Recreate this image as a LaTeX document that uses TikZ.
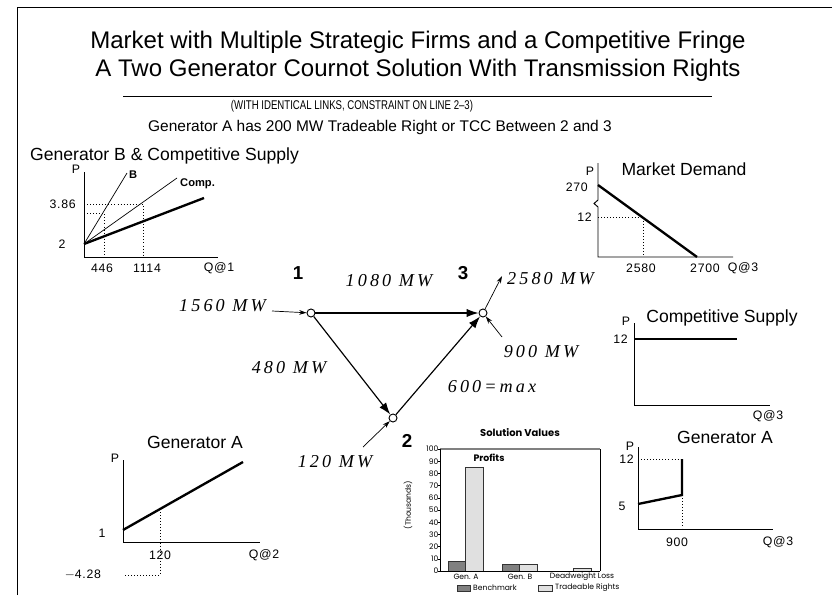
\documentclass[tikz,border=0pt]{standalone}
\usepackage{fontspec}
\setmainfont{Liberation Sans}
\newfontfamily\cadfont{Liberation Sans}[LetterSpace=6]
\newfontfamily\flowfont{Liberation Serif}[LetterSpace=17]
\newfontfamily\chartfont{Poppins}
\usetikzlibrary{positioning,arrows.meta}

\begin{document}
\begin{tikzpicture}[x=0.3mm,y=-0.3mm,
  every node/.style={inner sep=0pt},
  axis/.style={line width=0.8pt},
  supply/.style={line width=2pt},
  guide/.style={dotted,line width=0.6pt},
  ptitle/.style={font=\fontsize{15}{18}\selectfont},
  tick/.style={font=\cadfont\fontsize{10.5}{12}\selectfont},
  flow/.style={font=\flowfont\itshape\fontsize{15.5}{18}\selectfont},
  bus/.style={circle,draw,line width=0.8pt,minimum size=2.4mm,fill=white},
  busno/.style={font=\bfseries\fontsize{16}{18}\selectfont},
  link/.style={line width=1pt,-{Latex[length=3.6mm,width=2.5mm]}},
  inj/.style={line width=0.6pt,-{Stealth[length=2.2mm,width=1.4mm]}},
  bar/.style={draw=black!80,line width=0.7pt},
  bench/.style={bar,fill=black!50},
  trade/.style={bar,fill=black!12},
  small/.style={font=\chartfont\fontsize{6.5}{7}\selectfont},
]
\useasboundingbox (0,0) rectangle (832,595);
\draw[line width=0.8pt] (17,595) -- (17,7) -- (832,7);

\node[font=\fontsize{20.5}{24}\selectfont,align=center] (title) at (418,56)
  {Market with Multiple Strategic Firms and a Competitive Fringe\\
   A Two Generator Cournot Solution With Transmission Rights};
\draw[line width=0.8pt] (123,96) -- (712,96);
\node[font=\fontsize{10.8}{11}\selectfont,xscale=0.76,transform shape] (cond) at (352,106)
  {(WITH IDENTICAL LINKS, CONSTRAINT ON LINE 2–3)};
\node[font=\fontsize{13.2}{14}\selectfont] (tcc) at (380,128)
  {Generator A has 200 MW Tradeable Right or TCC Between 2 and 3};

% generator B and competitive supply at 1
\node[ptitle,anchor=west] (gbtitle) at (30,156) {Generator B \& Competitive Supply};
\draw[axis] (84,172) -- (84,257) -- (218,257);
\coordinate (gb0) at (84,244);
\coordinate (gbB) at (127,173);
\coordinate (gbC) at (177,178);
\coordinate (gbS) at (204,198);
\draw[guide] (84,204) -| (143,257);
\draw[guide] (84,213) -| (104,257);
\draw[line width=0.6pt] (gb0) -- (gbB);
\draw[line width=0.6pt] (gb0) -- (gbC);
\draw[supply] (gb0) -- (gbS);
\node[font=\bfseries\fontsize{9.5}{10}\selectfont,anchor=west] (gbBl) at (129,175) {B};
\node[font=\bfseries\fontsize{9.5}{10}\selectfont,anchor=west] (gbCl) at (180,184) {Comp.};
\node[tick] (gbP) at (76,169) {P};
\node[tick,anchor=east] (gbp1) at (76,204) {3.86};
\node[tick] (gbp2) at (62,244) {2};
\node[tick] (gbq1) at (102,268) {446};
\node[tick] (gbq2) at (147,268) {1114};
\node[tick] (gbQ) at (219,268) {Q@1};

% market demand at 3
\node[ptitle] (mdtitle) at (684,169) {Market Demand};
\draw[axis] (598,163) -- (598,200) -- (594,203.5) -- (598,207) -- (598,257) -- (733,257);
\draw[supply] (598,185) -- (697,257);
\draw[guide] (598,217) -| (643,257);
\node[tick] (mdP) at (590,171) {P};
\node[tick,anchor=east] (mdp1) at (588,187) {270};
\node[tick,anchor=east] (mdp2) at (592,217) {12};
\node[tick] (mdq1) at (641,268) {2580};
\node[tick] (mdq2) at (705,268) {2700};
\node[tick] (mdQ) at (743,268) {Q@3};

% network
\node[bus] (n1) at (311,313) {};
\node[bus] (n3) at (483,313) {};
\node[bus] (n2) at (393,418) {};
\node[busno] (l1) at (298,273) {1};
\node[busno] (l3) at (463,273) {3};
\node[busno] (l2) at (407,441) {2};
\draw[link] (n1) -- (n3);
\draw[link] (n1) -- (n2);
\draw[link] (n2) -- (n3);
\coordinate (in1) at (272,311);
\coordinate (out3) at (502,276);
\coordinate (in3) at (502,337);
\coordinate (in2) at (363,447);
\draw[inj] (in1) -- (n1);
\draw[inj] (n3) -- (out3);
\draw[inj] (in3) -- (n3);
\draw[inj] (in2) -- (n2);
\node[flow] (f13) at (389,281) {1080 MW};
\node[flow,anchor=west] (d3) at (507,279) {2580 MW};
\node[flow,anchor=east] (g1) at (266,306) {1560 MW};
\node[flow] (g3) at (541,352) {900 MW};
\node[flow] (f12) at (289,368) {480 MW};
\node[flow] (f23) at (492,387) {600=max};
\node[flow] (g2) at (335,462) {120 MW};

% competitive supply at 3
\node[ptitle] (cstitle) at (722,318) {Competitive Supply};
\draw[axis] (634,323) -- (634,405) -- (770,405);
\draw[supply] (634,339) -- (737,339);
\node[tick] (csP) at (626,321) {P};
\node[tick,anchor=east] (csp) at (628,339) {12};
\node[tick] (csQ) at (768,416) {Q@3};

% generator A at 2
\node[ptitle] (gatitle) at (195,442) {Generator A};
\draw[axis] (123,460) -- (123,542) -- (260,542);
\draw[supply] (123,530) -- (243,462);
\draw[guide] (160,509) -- (160,575) -- (125,575);
\node[tick] (gaP) at (115,458) {P};
\node[tick] (gap1) at (102,533) {1};
\node[tick] (gap2) at (83,575) {$-$4.28};
\node[tick] (gaq) at (160,555) {120};
\node[tick] (gaQ) at (264,555) {Q@2};

% generator A at 3
\node[ptitle] (hatitle) at (725,437) {Generator A};
\draw[axis] (638,447) -- (638,529) -- (773,529);
\draw[guide] (638,459) -- (682,459);
\draw[guide] (682,495) -- (682,529);
\draw[supply] (638,504) -- (682,495) -- (682,459);
\node[tick] (haP) at (630,446) {P};
\node[tick,anchor=east] (hap1) at (634,459) {12};
\node[tick] (hap2) at (622,506) {5};
\node[tick] (haq) at (677,542) {900};
\node[tick] (haQ) at (778,542) {Q@3};

% solution values
\node[font=\chartfont\bfseries\fontsize{8.5}{9}\selectfont] (svtitle) at (520,433) {Solution Values};
\draw[black!50,line width=1pt] (440,449) -- (600,449);
\draw[line width=0.7pt] (600,449) -- (600,571);
\foreach \x/\b/\t in {448/7.5/85, 502/5.5/5.5, 556/0/2} {
  \draw[bench] (\x,571) rectangle ++(17,{-1.22*\b});
  \draw[trade] (\x+17,571) rectangle ++(18,{-1.22*\t});
}
\draw[axis] (440,449) -- (440,571) -- (600,571);
\foreach \v in {0,10,...,100}
  \draw (437.5,{571-1.22*\v}) -- (440,{571-1.22*\v})
    node[small,anchor=east,xshift=-1.2pt] {\v};
\node[font=\chartfont\bfseries\fontsize{8}{9}\selectfont] (profits) at (489,458) {Profits};
\node[small,rotate=90] (thou) at (408,505) {(Thousands)};
\node[small] (catA) at (466,577) {Gen. A};
\node[small] (catB) at (520,577) {Gen. B};
\node[small] (catD) at (582,577) {Deadweight Loss};
\draw[bench] (457,585) rectangle (470,591);
\node[small,anchor=west] (legb) at (473,588) {Benchmark};
\draw[trade] (538,585) rectangle (552,591);
\node[small,anchor=west] (legt) at (555,588) {Tradeable Rights};
\end{tikzpicture}
\end{document}
